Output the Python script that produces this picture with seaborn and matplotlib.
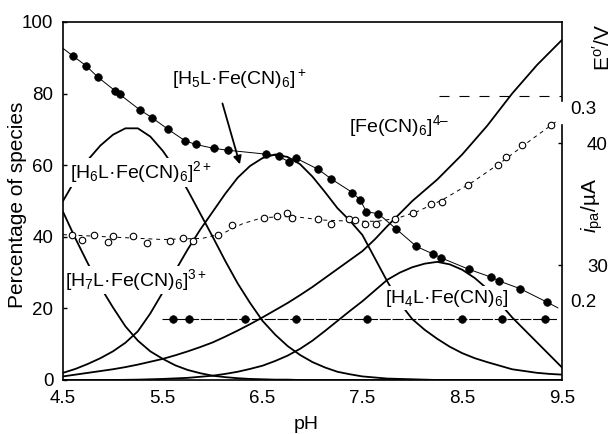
import numpy as np
import pandas as pd
import matplotlib
matplotlib.use("Agg")
import matplotlib.pyplot as plt
import seaborn as sns

# ---------------- data ----------------
ph_grid = [4.5, 4.625, 4.75, 4.875, 5.0, 5.125, 5.25, 5.375, 5.5, 5.625, 5.75,
           5.875, 6.0, 6.125, 6.25, 6.375, 6.5, 6.625, 6.75, 6.875, 7.0,
           7.125, 7.25, 7.375, 7.5, 7.625, 7.75, 7.875, 8.0, 8.125, 8.25,
           8.375, 8.5, 8.625, 8.75, 8.875, 9.0, 9.125, 9.25, 9.375, 9.5]
h7l = [47, 39.5, 32.5, 26.0, 20.3, 15.0, 11.0, 8.0, 5.9, 4.1, 2.8,
       1.9, 1.2, 0.8, 0.5, 0.3, 0.2, 0.1, 0.1, 0, 0,
       0, 0, 0, 0, 0, 0, 0, 0, 0, 0,
       0, 0, 0, 0, 0, 0, 0, 0, 0, 0]
h6l = [50, 56, 61.5, 65.5, 68.5, 70.3, 70.3, 68, 64, 59, 53,
       46.5, 40, 33.3, 27, 21.5, 16.5, 12.7, 9.5, 7, 5,
       3.5, 2.3, 1.6, 1.0, 0.7, 0.4, 0.3, 0.2, 0.1, 0,
       0, 0, 0, 0, 0, 0, 0, 0, 0, 0]
h5l = [2, 3.1, 4.5, 6.1, 8, 10.4, 13.6, 18.6, 24.5, 30.5, 36.5,
       42, 47, 52, 56.5, 59.8, 62, 63, 62.3, 60.3, 56.8,
       52.5, 48, 44.5, 40.5, 34, 27.5, 21.5, 17, 14, 11.5,
       9.3, 7.5, 6.1, 5, 4, 3, 2.5, 2, 1.7, 1.5]
h4l = [0, 0, 0, 0, 0, 0.05, 0.1, 0.2, 0.3, 0.45, 0.6,
       0.9, 1.2, 1.7, 2.3, 3.1, 4, 5.3, 6.8, 8.7, 11,
       13.7, 16.5, 19.3, 22, 25, 28, 30, 31.5, 32.5, 33,
       32.3, 30.8, 28.5, 25.5, 21.5, 17.5, 14, 10.5, 7, 3.5]
fecn = [1, 1.5, 2, 2.5, 3, 3.6, 4.3, 5.1, 5.9, 6.9, 8,
        9.2, 10.5, 12.1, 13.8, 15.6, 17.5, 19.5, 21.5, 23.7, 26,
        28.5, 31, 33.5, 36, 39.3, 43, 46.5, 50, 53, 56,
        59.5, 63, 67, 71, 75.5, 80, 84, 88, 91.5, 95]

# E0' (V) measured points (filled circles)
e_ph = [4.60, 4.73, 4.85, 5.02, 5.07, 5.27, 5.39, 5.55, 5.72, 5.83, 6.01, 6.15,
        6.53, 6.66, 6.76, 6.83, 7.06, 7.19, 7.40, 7.48, 7.54, 7.66, 7.84, 8.04,
        8.21, 8.29, 8.57, 8.79, 8.87, 9.08, 9.35]
e_val = [0.327, 0.322, 0.316, 0.309, 0.307, 0.299, 0.295, 0.289, 0.283, 0.281,
         0.279, 0.278, 0.276, 0.275, 0.272, 0.274, 0.268, 0.263, 0.256, 0.252,
         0.246, 0.245, 0.237, 0.228, 0.224, 0.222, 0.216, 0.212, 0.210, 0.206, 0.199]
e_start_ph, e_start = 4.5, 0.331
e_end_ph, e_end = 9.46, 0.196

# i_pa (uA) measured points (open circles)
i_ph = [4.59, 4.69, 4.81, 4.95, 5.00, 5.20, 5.34, 5.57, 5.70, 5.80, 6.05, 6.19,
        6.51, 6.64, 6.74, 6.79, 7.06, 7.19, 7.37, 7.43, 7.53, 7.64, 7.83, 8.01,
        8.19, 8.30, 8.56, 8.86, 8.94, 9.10, 9.39]
i_val = [32.5, 32.1, 32.5, 31.9, 32.4, 32.4, 31.8, 32.0, 32.2, 32.0, 32.5, 33.3,
         33.9, 34.0, 34.3, 33.9, 33.8, 33.4, 33.8, 33.7, 33.4, 33.4, 33.8, 34.3,
         35.0, 35.2, 36.6, 38.2, 38.9, 39.9, 41.5]
# dashed trend line through the i_pa data
i_line_ph = [4.5, 5.0, 5.5, 5.9, 6.1, 6.3, 6.5, 6.8, 7.1, 7.4, 7.65, 7.85,
             8.05, 8.3, 8.6, 8.9, 9.2, 9.46]
i_line = [32.5, 32.3, 32.1, 32.2, 32.6, 33.4, 33.9, 34.0, 33.7, 33.6, 33.6, 33.85,
          34.4, 35.35, 36.8, 38.5, 40.35, 41.9]

# horizontal series (filled circles) and reference dashed level (V)
h_ph = [5.60, 5.76, 6.32, 6.83, 7.55, 8.50, 8.90, 9.33]
h_val = [0.190] * len(h_ph)
h_line_ph = [5.49, 9.45]
h_line = [0.190, 0.190]
ref_ph = [8.27, 9.5]
ref_e = [0.306, 0.306]

x_ticks = [4.5, 5.5, 6.5, 7.5, 8.5, 9.5]
y_ticks = [0, 20, 40, 60, 80, 100]

# ---------------- style ----------------
sns.set_style("white")
plt.rcParams["font.family"] = ["Liberation Sans", "DejaVu Sans"]
plt.rcParams["mathtext.fontset"] = "custom"
plt.rcParams["mathtext.rm"] = "Liberation Sans"
plt.rcParams["mathtext.it"] = "Liberation Sans:italic"
plt.rcParams["mathtext.default"] = "regular"
for k in ("text.color", "axes.labelcolor", "xtick.color", "ytick.color"):
    plt.rcParams[k] = "black"

fig = plt.figure(figsize=(6.14, 4.34), dpi=100)
ax = fig.add_axes([63 / 614, 54 / 434, 499 / 614, 358 / 434])
ax_e = ax.twinx()
ax_i = ax.twinx()

lw_c = 1.3
for ys in (h7l, h6l, h5l, h4l, fecn):
    sns.lineplot(x=ph_grid, y=ys, ax=ax, color="black", lw=lw_c,
                 sort=False, estimator=None, zorder=2)

tfs = 13.5
ax.set_xlim(4.5, 9.5)
ax.set_ylim(0, 100)
ax.set_xticks(x_ticks)
ax.set_xticklabels([f"{v:.1f}" for v in x_ticks])
ax.set_yticks(y_ticks)
ax.tick_params(axis="x", length=0, labelsize=tfs, pad=7)
ax.tick_params(axis="y", direction="in", length=3, width=1, labelsize=tfs, pad=7)
for s in ("left", "bottom", "top"):
    ax.spines[s].set_visible(True)
    ax.spines[s].set_color("black")
    ax.spines[s].set_linewidth(1.2)
    ax.spines[s].set_zorder(6)
ax.spines["right"].set_visible(False)
ax.set_xlabel("pH", fontsize=14)
ax.set_ylabel("Percentage of species", fontsize=15)
ax.xaxis.set_label_coords(0.487, -0.10)
ax.yaxis.set_label_coords(-0.072, 0.489)

# species labels (white boxes break the curves like the original)
bb = dict(facecolor="white", edgecolor="none", pad=1.0)
fs = 14
ax.text(6.27, 84.0, r"[H$_5$L·Fe(CN)$_6$]$^+$", fontsize=fs, ha="center", va="center", bbox=bb, zorder=5)
ax.text(7.87, 71.0, "[Fe(CN)$_6$]$^{4–}$", fontsize=fs, ha="center", va="center", bbox=bb, zorder=5)
ax.text(5.28, 58.0, r"[H$_6$L·Fe(CN)$_6$]$^{2+}$", fontsize=fs, ha="center", va="center", bbox=bb, zorder=5)
ax.text(5.23, 27.9, r"[H$_7$L·Fe(CN)$_6$]$^{3+}$", fontsize=fs, ha="center", va="center", bbox=bb, zorder=5)
ax.text(8.34, 22.9, r"[H$_4$L·Fe(CN)$_6$]", fontsize=fs, ha="center", va="center", bbox=bb, zorder=5)
ax.annotate("", xy=(6.28, 59.5), xytext=(6.09, 78.0),
            arrowprops=dict(arrowstyle="-|>", color="black", lw=1.3, mutation_scale=12))

# E0' axis
sns.lineplot(x=[e_start_ph] + e_ph + [e_end_ph], y=[e_start] + e_val + [e_end],
             ax=ax_e, color="black", lw=0.7, sort=False, estimator=None)
sns.scatterplot(x=e_ph, y=e_val, ax=ax_e, color="black", s=30, edgecolor="black", linewidth=0.5, zorder=4)
sns.lineplot(x=h_line_ph, y=h_line, ax=ax_e, color="black", lw=0.8,
             sort=False, estimator=None)
ax_e.lines[-1].set_dashes((10, 1.5))
sns.scatterplot(x=h_ph, y=h_val, ax=ax_e, color="black", s=30, edgecolor="black", linewidth=0.5, zorder=4)
sns.lineplot(x=ref_ph, y=ref_e, ax=ax_e, color="black", lw=0.8, sort=False, estimator=None)
ax_e.lines[-1].set_dashes((9, 9))

e_lo, e_hi = 0.1585, 0.3447
ax_e.set_ylim(e_lo, e_hi)
ax_e.set_yticks([0.2, 0.3])
ax_e.set_yticklabels(["0.2", "0.3"])
ax_e.tick_params(axis="y", length=0, pad=6, labelsize=tfs)
for s in ("left", "bottom", "top"):
    ax_e.spines[s].set_visible(False)
ax_e.spines["right"].set_color("black")
ax_e.spines["right"].set_linewidth(1.2)
ax_e.spines["right"].set_bounds(0.3037, e_hi)
ax_e.set_ylabel(r"E$^{o\prime}$/V", fontsize=15)
ax_e.yaxis.set_label_coords(1.060, 0.93)

# i_pa axis
sns.lineplot(x=i_line_ph, y=i_line, ax=ax_i, color="black", lw=0.7,
             sort=False, estimator=None)
ax_i.lines[-1].set_dashes((4, 4))
sns.scatterplot(x=i_ph, y=i_val, ax=ax_i, color="white", s=22, edgecolor="black", linewidth=0.8, zorder=4)
i_lo, i_hi = 20.56, 49.97
ax_i.set_ylim(i_lo, i_hi)
ax_i.set_yticks([30, 40])
ax_i.set_yticklabels(["30", "40"])
ax_i.tick_params(axis="y", direction="in", length=3, width=1, pad=18, labelsize=tfs)
for s in ("left", "bottom", "top"):
    ax_i.spines[s].set_visible(False)
ax_i.spines["right"].set_color("black")
ax_i.spines["right"].set_linewidth(1.2)
ax_i.spines["right"].set_bounds(i_lo, 41.5)
ax_i.set_ylabel(r"$\mathit{i}_{pa}$/µA", fontsize=15)
ax_i.yaxis.set_label_coords(1.036, 0.489)

ax_e.set_xlim(4.5, 9.5)
ax_i.set_xlim(4.5, 9.5)

fig.savefig("out.png", dpi=100)
